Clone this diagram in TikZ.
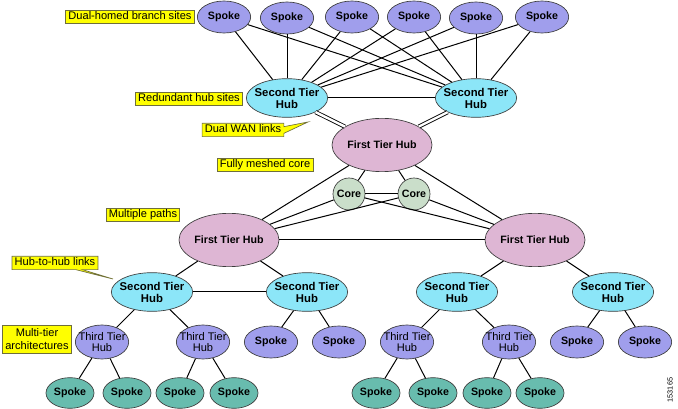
\documentclass[tikz,border=0pt]{standalone}
\usepackage{fontspec}
\setsansfont{Liberation Sans}
\usepackage{tikz}
\usetikzlibrary{shapes.geometric, shapes.callouts, positioning}

\definecolor{nodeline}{RGB}{60,60,60}
\definecolor{spokeblue}{RGB}{160,158,236}
\definecolor{hubcyan}{RGB}{140,230,248}
\definecolor{firstpink}{RGB}{222,182,212}
\definecolor{coregreen}{RGB}{202,222,202}
\definecolor{leafteal}{RGB}{104,188,174}
\definecolor{tagyellow}{RGB}{255,255,0}
\definecolor{tagline}{RGB}{110,110,60}

\begin{document}
\begin{tikzpicture}[
  x=0.75pt, y=-0.75pt,
  spoke/.style={ellipse, draw=nodeline, fill=spokeblue, line width=0.5pt,
                inner sep=0pt, minimum width=40pt, minimum height=24pt,
                font=\sffamily\bfseries\fontsize{8}{9}\selectfont},
  leaf/.style={spoke, fill=leafteal, minimum width=36pt, minimum height=23pt},
  hub/.style={ellipse, draw=nodeline, fill=hubcyan, line width=0.5pt,
              inner xsep=-3pt, inner ysep=0pt, align=center,
              minimum width=61pt, minimum height=29pt,
              font=\sffamily\bfseries\fontsize{8.5}{9}\selectfont},
  third/.style={ellipse, draw=nodeline, fill=spokeblue, line width=0.5pt,
                inner xsep=-6pt, inner ysep=-1pt, align=center,
                minimum width=40pt, minimum height=25.5pt,
                font=\sffamily\fontsize{8.3}{8.5}\selectfont},
  fth/.style={ellipse, draw=nodeline, fill=firstpink, line width=0.5pt,
              inner sep=0pt, minimum width=75pt, minimum height=40pt,
              font=\sffamily\bfseries\fontsize{8}{9}\selectfont},
  core/.style={circle, draw=nodeline, fill=coregreen, line width=0.5pt,
               inner sep=0pt, minimum size=24pt,
               font=\sffamily\bfseries\fontsize{8}{9}\selectfont},
  tag/.style={rectangle, draw=tagline, fill=tagyellow, line width=0.5pt,
              inner xsep=2pt, inner ysep=1pt, text height=6.2pt, text depth=1.8pt,
              font=\sffamily\fontsize{8.3}{9.8}\selectfont},
  link/.style={line width=0.75pt},
  wan/.style={double, double distance=1.8pt, line width=0.65pt}
]
\useasboundingbox (0,0) rectangle (678,409);

%% ---- Top row: dual-homed branch spokes ----
\node[spoke] (sp1) at (224,17) {Spoke};
\node[spoke] (sp2) at (287,18) {Spoke};
\node[spoke] (sp3) at (352,17) {Spoke};
\node[spoke] (sp4) at (414,17) {Spoke};
\node[spoke] (sp5) at (476,18) {Spoke};
\node[spoke] (sp6) at (542,17) {Spoke};

%% ---- Redundant second tier hubs ----
\node[hub] (h2a) at (287,98) {Second Tier\\Hub};
\node[hub] (h2b) at (476,98) {Second Tier\\Hub};

%% ---- Core ----
\node[fth]  (f1) at (382,145) {First Tier Hub};
\node[core] (c1) at (349,194) {Core};
\node[core] (c2) at (414,194) {Core};
\node[fth]  (f2) at (229,240) {First Tier Hub};
\node[fth]  (f3) at (535,240) {First Tier Hub};

%% ---- Lower second tier hubs ----
\node[hub] (h2c) at (152,292) {Second Tier\\Hub};
\node[hub] (h2d) at (307,292) {Second Tier\\Hub};
\node[hub] (h2e) at (457,292) {Second Tier\\Hub};
\node[hub] (h2f) at (613,292) {Second Tier\\Hub};

%% ---- Third tier hubs and spokes ----
\node[third] (t3a) at (102,342) {Third Tier\\Hub};
\node[third] (t3b) at (203,342) {Third Tier\\Hub};
\node[third] (t3c) at (407,342) {Third Tier\\Hub};
\node[third] (t3d) at (509,342) {Third Tier\\Hub};

\node[spoke] (sp7)  at (271,342) {Spoke};
\node[spoke] (sp8)  at (339,342) {Spoke};
\node[spoke] (sp9)  at (577,342) {Spoke};
\node[spoke] (sp10) at (645,342) {Spoke};

%% ---- Bottom row: leaf spokes ----
\node[leaf] (lf1) at (70,393)  {Spoke};
\node[leaf] (lf2) at (127,393) {Spoke};
\node[leaf] (lf3) at (180,393) {Spoke};
\node[leaf] (lf4) at (234,393) {Spoke};
\node[leaf] (lf5) at (376,393) {Spoke};
\node[leaf] (lf6) at (433,393) {Spoke};
\node[leaf] (lf7) at (487,393) {Spoke};
\node[leaf] (lf8) at (540,393) {Spoke};

%% ---- Labels ----
\node[tag] (tdual) at (130,17) {Dual-homed branch sites};
\node[tag] (tred)  at (189,99) {Redundant hub sites};
\coordinate (wanptr) at (308,122);
\node[tag, rectangle callout, callout absolute pointer={(wanptr)},
      callout pointer width=5pt] (twan) at (243,130) {Dual WAN links};
\node[tag] (tmesh) at (265,165) {Fully meshed core};
\node[tag] (tpath) at (143,215) {Multiple paths};
\coordinate (hubptr) at (113,279);
\node[tag, rectangle callout, callout absolute pointer={(hubptr)},
      callout pointer width=5pt] (thub) at (55,263) {Hub-to-hub links};
\node[tag, align=center, text height=, text depth=, inner ysep=2.5pt]
  (tmulti) at (37,339) {Multi-tier\\architectures};
\node[rotate=90, font=\sffamily\fontsize{5.5}{6}\selectfont] (figid) at (670,390) {153165};

%% ---- Spokes -> redundant hubs ----
\foreach \i in {1,...,6} {
  \draw[link] (sp\i) -- (h2a);
  \draw[link] (sp\i) -- (h2b);
}
\draw[link] (h2a) -- (h2b);

%% ---- Dual WAN links ----
\draw[wan] (h2a) -- (f1);
\draw[wan] (h2b) -- (f1);

%% ---- Fully meshed core ----
\draw[link] (f1) -- (c1);
\draw[link] (f1) -- (c2);
\draw[link] (f1) -- (f2);
\draw[link] (f1) -- (f3);
\draw[link] (c1) -- (c2);
\draw[link] (c1) -- (f2);
\draw[link] (c1) -- (f3);
\draw[link] (c2) -- (f2);
\draw[link] (c2) -- (f3);
\draw[link] (f2) -- (f3);

%% ---- First tier -> second tier ----
\draw[link] (f2) -- (h2c);
\draw[link] (f2) -- (h2d);
\draw[link] (f3) -- (h2e);
\draw[link] (f3) -- (h2f);
\draw[link] (h2c) -- (h2d);

%% ---- Second tier -> third tier / spokes ----
\draw[link] (h2c) -- (t3a);
\draw[link] (h2c) -- (t3b);
\draw[link] (h2d) -- (sp7);
\draw[link] (h2d) -- (sp8);
\draw[link] (h2e) -- (t3c);
\draw[link] (h2e) -- (t3d);
\draw[link] (h2f) -- (sp9);
\draw[link] (h2f) -- (sp10);

%% ---- Third tier -> leaf spokes ----
\draw[link] (t3a) -- (lf1);
\draw[link] (t3a) -- (lf2);
\draw[link] (t3b) -- (lf3);
\draw[link] (t3b) -- (lf4);
\draw[link] (t3c) -- (lf5);
\draw[link] (t3c) -- (lf6);
\draw[link] (t3d) -- (lf7);
\draw[link] (t3d) -- (lf8);

\end{tikzpicture}
\end{document}
